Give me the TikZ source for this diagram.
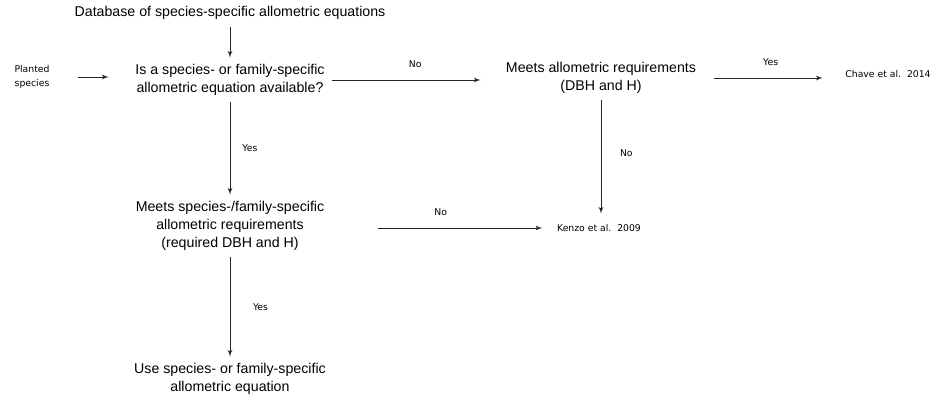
\documentclass[tikz,border=0pt]{standalone}
\usepackage{fontspec}
\setmainfont{Liberation Sans}
\newfontfamily\labelfont{DejaVu Sans}
\usetikzlibrary{arrows}

\begin{document}
\begin{tikzpicture}
		[x=0.0265cm,y=-0.0265cm,every node/.style={align=center,font=\fontsize{10.7}{13.5}\selectfont,inner sep=5pt},
		small/.style={font=\labelfont\fontsize{7}{10.5}\selectfont},
		edge/.style={->,> = latex',draw=black!85,line width=0.7pt}]
		\useasboundingbox (0,0) rectangle (948,401);
		\node (db) at (230,13) {Database of species-specific allometric equations};
		\node[small] (plant) at (32,77) {Planted\\species};
		\node (q1) at (230,80) {Is a species- or family-specific\\allometric equation available?};
		\node (meets) at (601,78) {Meets allometric requirements\\(DBH and H)};
		\node[small] (chave) at (888,74) {Chave et al.~~2014};
		\node (q2) at (230,226) {Meets species-/family-specific\\allometric requirements\\(required DBH and H)};
		\node[small] (kenzo) at (599,228) {Kenzo et al.~~2009};
		\node (use) at (230,379) {Use species- or family-specific\\allometric equation};
		
		\draw[edge] (db) -- (q1);
		\draw[edge,shorten <=16pt,shorten >=15pt] (plant) -- (q1.west |- plant);
		\draw[edge,shorten >=14pt] (q1) -- node[small,above=4pt] {No} (meets.west |- q1);
		\draw[edge,shorten <=8pt,shorten >=12pt] (meets) -- node[small,above=4pt] {Yes} (chave.west |- meets);
		\draw[edge,shorten >=3pt] (meets) -- node[small,right=9pt,pos=0.45] {No} (meets |- kenzo.north);
		\draw[edge] (q1) -- node[small,right=4pt] {Yes} (q2);
		\draw[edge,shorten <=35pt,shorten >=6pt] (q2.east |- kenzo) -- node[small,above=4pt] {No} (kenzo);
		\draw[edge] (q2) -- node[small,right=12pt] {Yes} (use);
\end{tikzpicture}
\end{document}
